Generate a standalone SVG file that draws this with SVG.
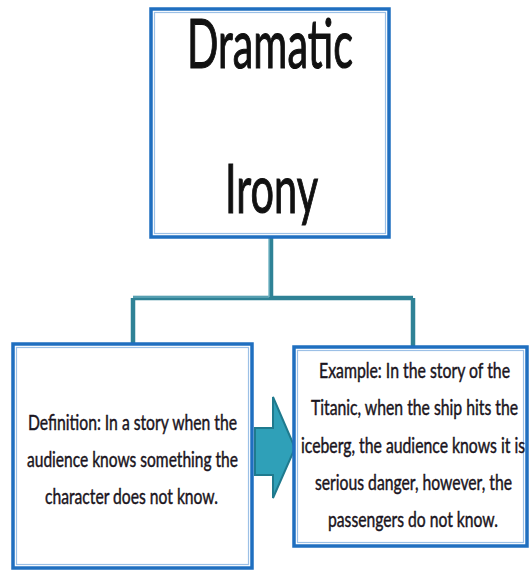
<svg xmlns="http://www.w3.org/2000/svg" width="529" height="571" viewBox="0 0 529 571">
<defs>
<style>
.box{fill:#fff;stroke:#1f6fc0;stroke-width:3.5}
.inner{fill:none;stroke:#9cc0e6;stroke-width:1.2}
.conn{fill:none;stroke:#2f8296;stroke-width:4.5;stroke-linejoin:round}
.connhi{fill:none;stroke:#7fbccb;stroke-width:1.2}
.title{font-family:Lato,"Liberation Sans",sans-serif;font-size:68px;fill:#111;stroke:#111;stroke-width:1.2;text-anchor:middle}
.body{font-family:Lato,"Liberation Sans",sans-serif;font-size:21px;fill:#1a1420;stroke:#1a1420;stroke-width:0.45;text-anchor:middle}
</style>
</defs>
<rect width="529" height="571" fill="#fff"/>
<g id="connectors">
<path class="conn" d="M271,236 V298 M133,298 H413 M133,298 V344 M413,298 V347"/>
<path class="connhi" d="M133,297 H269 M269,236 V297"/>
</g>
<g id="node-title">
<rect class="box" x="151" y="9" width="238" height="228"/>
<rect class="inner" x="154.5" y="12.5" width="231" height="221"/>
<text class="title" x="270" y="68" textLength="166" lengthAdjust="spacingAndGlyphs">Dramatic</text>
<text class="title" x="271.5" y="213" textLength="93" lengthAdjust="spacingAndGlyphs">Irony</text>
</g>
<g id="node-definition">
<rect class="box" x="13" y="344" width="239" height="224"/>
<rect class="inner" x="16.5" y="347.5" width="232" height="217"/>
<text class="body" x="132.5" y="430" textLength="209" lengthAdjust="spacingAndGlyphs">Definition: In a story when the</text>
<text class="body" x="132.5" y="467" textLength="211" lengthAdjust="spacingAndGlyphs">audience knows something the</text>
<text class="body" x="131.5" y="504" textLength="173" lengthAdjust="spacingAndGlyphs">character does not know.</text>
</g>
<g id="arrow">
<path d="M255,428 H273 V397 L295,448 L273,498 V475 H255 Z" fill="#2fa0b8" stroke="#1f7a8e" stroke-width="2" stroke-linejoin="miter"/>
</g>
<g id="node-example">
<rect class="box" x="294" y="347" width="233" height="199"/>
<rect class="inner" x="297.5" y="350.5" width="226" height="192"/>
<text class="body" x="414.5" y="378" textLength="191" lengthAdjust="spacingAndGlyphs">Example: In the story of the</text>
<text class="body" x="414.5" y="415" textLength="207" lengthAdjust="spacingAndGlyphs">Titanic, when the ship hits the</text>
<text class="body" x="413" y="453" textLength="224" lengthAdjust="spacingAndGlyphs">iceberg, the audience knows it is</text>
<text class="body" x="413.5" y="490" textLength="197" lengthAdjust="spacingAndGlyphs">serious danger, however, the</text>
<text class="body" x="413" y="527" textLength="170" lengthAdjust="spacingAndGlyphs">passengers do not know.</text>
</g>
</svg>
